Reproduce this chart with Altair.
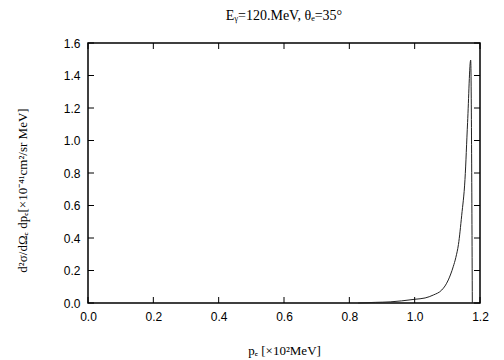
import altair as alt
import pandas as pd

# curve values
p_e = [0.827, 0.88, 0.925, 0.96, 1.001, 1.032, 1.057, 1.083, 1.093, 1.103,
       1.118, 1.126, 1.134, 1.144, 1.154, 1.162, 1.1715, 1.1765]
sigma = [0.0, 0.004, 0.007, 0.013, 0.023, 0.031, 0.049, 0.080, 0.105, 0.142,
         0.223, 0.28, 0.36, 0.54, 0.76, 1.11, 1.495, 0.0]

x_ticks = [0.0, 0.2, 0.4, 0.6, 0.8, 1.0, 1.2]
y_ticks = [0.0, 0.2, 0.4, 0.6, 0.8, 1.0, 1.2, 1.4, 1.6]

title_text = "Eᵧ=120.MeV,  θₑ=35°"
x_title = "pₑ [×10²MeV]"
y_title = "d²σ/dΩₑ dpₑ[×10⁻⁴¹cm²/sr MeV]"

W, H = 392, 260
TL = 6

df = pd.DataFrame({"p": p_e, "s": sigma})
xt = pd.DataFrame({"v": x_ticks})
yt = pd.DataFrame({"v": y_ticks})

xscale = alt.Scale(domain=[0, 1.2], nice=False, zero=False)
yscale = alt.Scale(domain=[0, 1.6], nice=False, zero=False)

xaxis = alt.Axis(values=x_ticks, format=".1f", tickSize=0, domain=False,
                 labelPadding=8, labelFont="Liberation Sans", labelFontSize=12,
                 labelColor="black", grid=False, labelFlush=False,
                 labelOverlap=False,
                 titleFont="Liberation Serif", titleFontSize=13,
                 titleFontWeight="normal", titleColor="black",
                 titleY=51, titleBaseline="alphabetic")
yaxis = alt.Axis(values=y_ticks, format=".1f", tickSize=0, domain=False,
                 labelPadding=8, labelFont="Liberation Sans", labelFontSize=12,
                 labelColor="black", grid=False, labelFlush=False,
                 labelOverlap=False,
                 titleFont="Liberation Serif", titleFontSize=13,
                 titleFontWeight="normal", titleColor="black",
                 titleX=-66, titleY=147, titleBaseline="middle")

line = alt.Chart(df).mark_line(color="#222222", strokeWidth=1, interpolate="monotone").encode(
    x=alt.X("p:Q", scale=xscale, title=x_title, axis=xaxis),
    y=alt.Y("s:Q", scale=yscale, title=y_title, axis=yaxis),
)

tick_style = dict(color="black", strokeWidth=1)
xb = alt.Chart(xt).mark_rule(**tick_style).encode(
    x=alt.X("v:Q", scale=xscale, title=x_title, axis=xaxis),
    y=alt.value(H), y2=alt.value(H - TL))
xtop = alt.Chart(xt).mark_rule(**tick_style).encode(
    x=alt.X("v:Q", scale=xscale, title=x_title, axis=xaxis),
    y=alt.value(0), y2=alt.value(TL))
yl = alt.Chart(yt).mark_rule(**tick_style).encode(
    y=alt.Y("v:Q", scale=yscale, title=y_title, axis=yaxis),
    x=alt.value(0), x2=alt.value(TL))
yr = alt.Chart(yt).mark_rule(**tick_style).encode(
    y=alt.Y("v:Q", scale=yscale, title=y_title, axis=yaxis),
    x=alt.value(W), x2=alt.value(W - TL))

chart = alt.layer(line, xb, xtop, yl, yr).properties(
    width=W, height=H,
    title=alt.TitleParams(title_text, font="Liberation Serif", fontSize=14,
                          fontWeight="normal", color="black", anchor="middle",
                          offset=14),
    autosize=alt.AutoSizeParams(type="none"),
    padding={"left": 80, "top": 35, "right": 16, "bottom": 57},
    background="white",
).configure_view(stroke="black", strokeWidth=1.5)

chart.save("out.html", embed_options={"renderer": "svg", "actions": False})
